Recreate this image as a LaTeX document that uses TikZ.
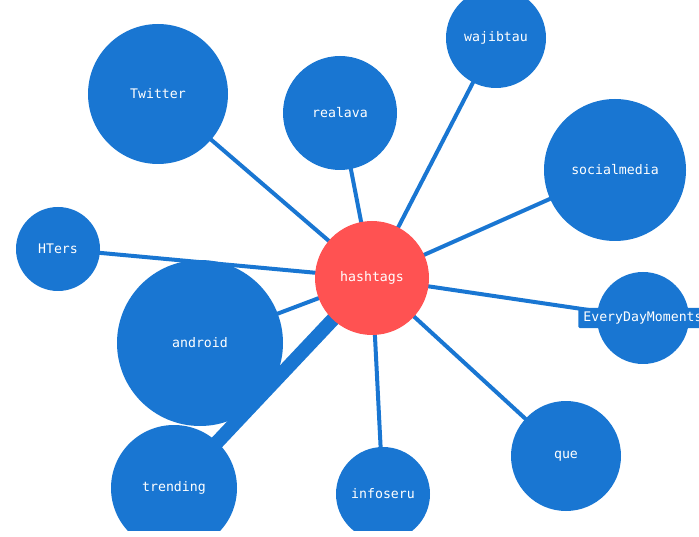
\documentclass[tikz,border=0pt]{standalone}
\usepackage{fontspec}
\newfontfamily\tagfont{DejaVu Sans Mono}
\usepackage{xcolor}
\usepackage{tikz}
\usetikzlibrary{backgrounds}
\definecolor{tagblue}{HTML}{1976D2}
\definecolor{tagred}{HTML}{FF5252}
\tikzset{
  bubble/.style = {circle, fill=tagblue, inner sep=0pt, text=white,
                   font=\tagfont\fontsize{13.2}{15}\selectfont},
  hub/.style    = {bubble, fill=tagred},
  tagbox/.style = {fill=tagblue, rounded corners=1.5pt, inner xsep=5pt, inner ysep=4pt,
                   text=white, font=\tagfont\fontsize{13.2}{15}\selectfont},
  link/.style   = {draw=tagblue, line width=4pt},
  biglink/.style = {draw=tagblue, line width=14pt},
}

\begin{document}
\begin{tikzpicture}[x=1pt, y=-1pt]
  \useasboundingbox (0,0) rectangle (699,537);
  \clip (0,0) rectangle (699,530);

  \node[hub]    (hashtags) at (372,278) [minimum size=114pt] {hashtags};
  \node[bubble] (twitter)  at (158,94)  [minimum size=140pt] {Twitter};
  \node[bubble] (realava)  at (340,113) [minimum size=114pt] {realava};
  \node[bubble] (wajibtau) at (496,38)  [minimum size=100pt] {wajibtau};
  \node[bubble] (social)   at (615,170) [minimum size=142pt] {socialmedia};
  \node[bubble] (hters)    at (58,249)  [minimum size=84pt]  {HTers};
  \node[bubble] (everyday) at (643,318) [minimum size=92pt]  {};
  \node[tagbox] (everydaytag) at (everyday.center) {EveryDayMoments};
  \node[bubble] (android)  at (200,343) [minimum size=166pt] {android};
  \node[bubble] (trending) at (174,488) [minimum size=126pt] {trending};
  \node[bubble] (infoseru) at (383,494) [minimum size=94pt]  {infoseru};
  \node[bubble] (que)      at (566,456) [minimum size=110pt] {que};

  % connectors behind the bubbles
  \begin{scope}[on background layer]
    \draw[link] (hashtags.center) -- (twitter.center);
    \draw[link] (hashtags.center) -- (realava.center);
    \draw[link] (hashtags.center) -- (wajibtau.center);
    \draw[link] (hashtags.center) -- (social.center);
    \draw[link] (hashtags.center) -- (hters.center);
    \draw[link] (hashtags.center) -- (everyday.center);
    \draw[link] (hashtags.center) -- (android.center);
    \draw[biglink] (hashtags.center) -- (trending.center);
    \draw[link] (hashtags.center) -- (infoseru.center);
    \draw[link] (hashtags.center) -- (que.center);
  \end{scope}
\end{tikzpicture}
\end{document}
